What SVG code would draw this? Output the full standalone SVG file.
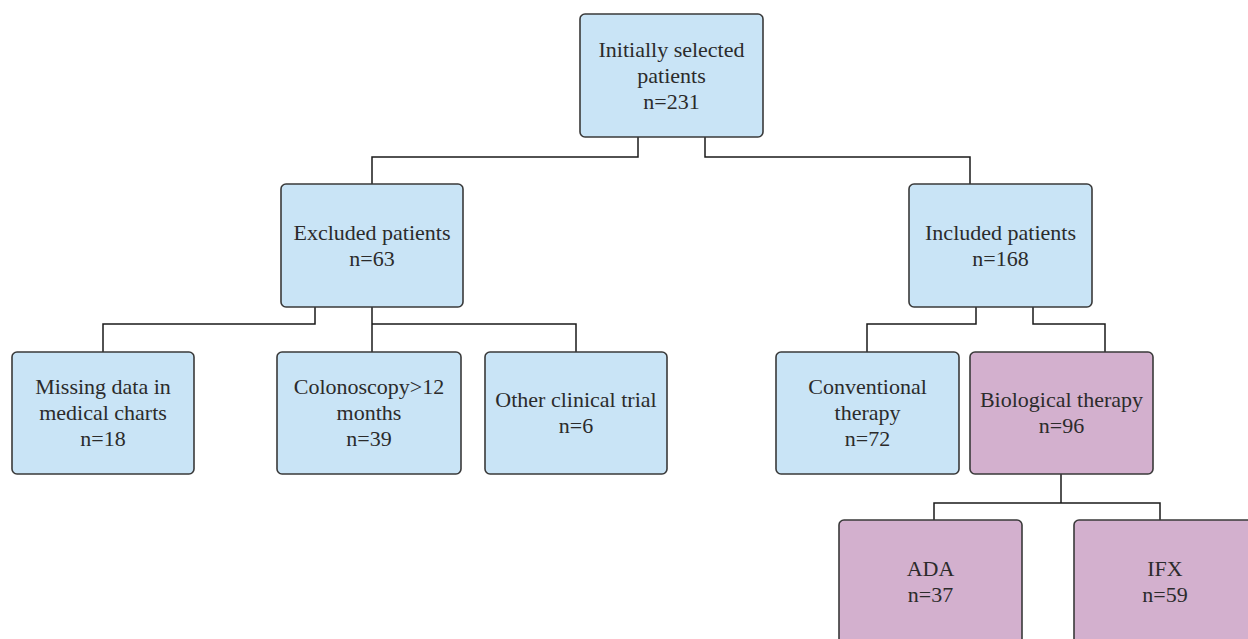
<svg xmlns="http://www.w3.org/2000/svg" width="1248" height="639" viewBox="0 0 1248 639">
<style>
.box{stroke:#3a3a3a;stroke-width:1.6}
.blue{fill:#c9e4f6}
.purple{fill:#d3b0ce}
text{font-family:'Liberation Serif','Times New Roman',Times,serif;font-size:22px;fill:#2b2b2b;text-anchor:middle}
.c{fill:none;stroke:#1a1a1a;stroke-width:1.5}
</style>
<rect width="1248" height="639" fill="#ffffff"/>
<g id="connectors">
<polyline class="c" points="638,137 638,157 372,157 372,184"/>
<polyline class="c" points="705,137 705,157 970,157 970,184"/>
<polyline class="c" points="315,307 315,324 103,324 103,352"/>
<polyline class="c" points="372,307 372,352"/>
<polyline class="c" points="372,324 576,324 576,352"/>
<polyline class="c" points="976,307 976,324 867,324 867,352"/>
<polyline class="c" points="1033,307 1033,324 1105,324 1105,352"/>
<polyline class="c" points="1061,474 1061,503"/>
<polyline class="c" points="934,520 934,503 1160,503 1160,520"/>
</g>
<g id="n-initial">
<rect class="box blue" x="580" y="14" width="183" height="123" rx="5"/>
<text x="671.5" y="57">Initially selected</text>
<text x="671.5" y="83">patients</text>
<text x="671.5" y="109">n=231</text>
</g>
<g id="n-excluded">
<rect class="box blue" x="281" y="184" width="182" height="123" rx="5"/>
<text x="372" y="240">Excluded patients</text>
<text x="372" y="266">n=63</text>
</g>
<g id="n-included">
<rect class="box blue" x="909" y="184" width="183" height="123" rx="5"/>
<text x="1000.5" y="240">Included patients</text>
<text x="1000.5" y="266">n=168</text>
</g>
<g id="n-missing">
<rect class="box blue" x="12" y="352" width="182" height="122" rx="5"/>
<text x="103" y="394">Missing data in</text>
<text x="103" y="420">medical charts</text>
<text x="103" y="446">n=18</text>
</g>
<g id="n-colonoscopy">
<rect class="box blue" x="277" y="352" width="184" height="122" rx="5"/>
<text x="369" y="394">Colonoscopy&gt;12</text>
<text x="369" y="420">months</text>
<text x="369" y="446">n=39</text>
</g>
<g id="n-other">
<rect class="box blue" x="485" y="352" width="182" height="122" rx="5"/>
<text x="576" y="407">Other clinical trial</text>
<text x="576" y="433">n=6</text>
</g>
<g id="n-conventional">
<rect class="box blue" x="776" y="352" width="183" height="122" rx="5"/>
<text x="867.5" y="394">Conventional</text>
<text x="867.5" y="420">therapy</text>
<text x="867.5" y="446">n=72</text>
</g>
<g id="n-biological">
<rect class="box purple" x="970" y="352" width="183" height="122" rx="5"/>
<text x="1061.5" y="407">Biological therapy</text>
<text x="1061.5" y="433">n=96</text>
</g>
<g id="n-ada">
<rect class="box purple" x="839" y="520" width="183" height="124" rx="5"/>
<text x="930.5" y="576">ADA</text>
<text x="930.5" y="602">n=37</text>
</g>
<g id="n-ifx">
<rect class="box purple" x="1074" y="520" width="183" height="124" rx="5"/>
<text x="1165" y="576">IFX</text>
<text x="1165" y="602">n=59</text>
</g>
</svg>
